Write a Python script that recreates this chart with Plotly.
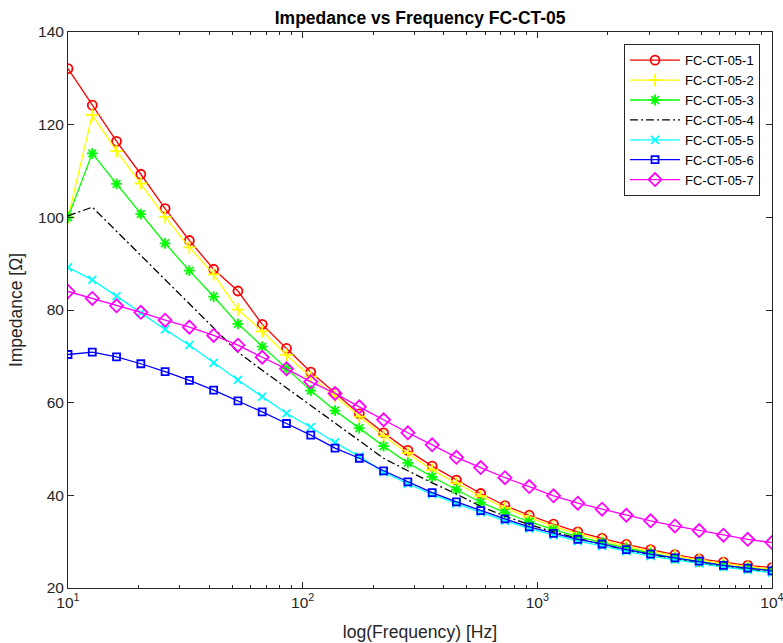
import numpy as np
import plotly.graph_objects as go

freq = np.logspace(1, 4, 30)

names = ["FC-CT-05-1", "FC-CT-05-2", "FC-CT-05-3", "FC-CT-05-4",
         "FC-CT-05-5", "FC-CT-05-6", "FC-CT-05-7"]

z1 = [132.1, 124.2, 116.4, 109.3, 101.9, 95.0, 88.8, 84.1, 76.9, 71.7,
      66.6, 62.1, 57.6, 53.5, 49.7, 46.3, 43.3, 40.4, 37.8, 35.7,
      33.8, 32.1, 30.7, 29.4, 28.3, 27.2, 26.3, 25.6, 24.9, 24.4]
z2 = [100.0, 122.1, 114.3, 107.3, 100.1, 93.5, 87.7, 80.1, 75.4, 70.3,
      65.6, 61.4, 57.0, 52.8, 49.1, 45.5, 42.6, 39.8, 37.3, 35.2,
      33.3, 31.7, 30.3, 29.0, 27.9, 26.9, 26.0, 25.3, 24.6, 24.1]
z3 = [100.0, 113.8, 107.2, 100.7, 94.4, 88.5, 82.9, 77.0, 72.1, 67.4,
      62.6, 58.3, 54.5, 50.6, 47.0, 44.0, 41.2, 38.5, 36.3, 34.3,
      32.6, 31.1, 29.8, 28.6, 27.5, 26.5, 25.7, 24.9, 24.3, 23.8]
z4 = [100.3, 102.2, 97.0, 91.8, 86.6, 81.4, 76.2, 70.9, 67.0, 63.2,
      59.5, 55.6, 51.8, 48.0, 45.3, 42.7, 40.3, 37.6, 35.5, 33.7,
      32.1, 30.7, 29.4, 28.2, 27.2, 26.3, 25.4, 24.6, 24.0, 23.4]
z5 = [89.2, 86.5, 83.0, 79.4, 75.8, 72.4, 68.6, 64.9, 61.3, 57.7,
      54.7, 51.4, 48.4, 45.0, 42.5, 40.2, 38.2, 36.3, 34.5, 32.8,
      31.4, 30.1, 29.1, 27.9, 26.9, 26.1, 25.3, 24.5, 23.9, 23.3]
z6 = [70.4, 70.9, 69.9, 68.4, 66.7, 64.8, 62.7, 60.4, 58.0, 55.5,
      53.0, 50.2, 48.0, 45.3, 42.9, 40.6, 38.6, 36.7, 34.9, 33.2,
      31.8, 30.5, 29.5, 28.3, 27.3, 26.5, 25.8, 24.9, 24.3, 23.7]
z7 = [84.0, 82.5, 80.9, 79.5, 77.8, 76.3, 74.5, 72.4, 69.8, 67.3,
      64.5, 62.0, 59.1, 56.3, 53.5, 50.9, 48.2, 46.0, 43.8, 41.9,
      39.9, 38.3, 37.0, 35.7, 34.5, 33.4, 32.4, 31.4, 30.5, 29.8]

series = [z1, z2, z3, z4, z5, z6, z7]
colors = ["#FF0000", "#FFFF00", "#00FF00", "#000000", "#00FFFF", "#0000FF", "#FF00FF"]
symbols = ["circle-open", "cross-thin-open", "asterisk-open", None,
           "x-thin-open", "square-open", "diamond-open"]
sizes = [9, 9, 9, 0, 8, 7, 10]

x_tickvals = [10, 100, 1000, 10000]
x_ticktext = ["10<sup>1</sup>", "10<sup>2</sup>", "10<sup>3</sup>", "10<sup>4</sup>"]
x_minor = [m * d for d in [10, 100, 1000] for m in range(2, 10)]
y_tickvals = [20, 40, 60, 80, 100, 120, 140]

FONT = "Liberation Sans, Arial, sans-serif"
AX = "#262626"

fig = go.Figure()
for name, ys, c, sym, sz in zip(names, series, colors, symbols, sizes):
    if sym is None:
        fig.add_trace(go.Scatter(x=freq, y=ys, name=name, mode="lines",
                                 line=dict(color=c, width=1.3, dash="8px,3px,2px,3px")))
    else:
        fig.add_trace(go.Scatter(x=freq, y=ys, name=name, mode="lines+markers",
                                 line=dict(color=c, width=1.3),
                                 marker=dict(symbol=sym, size=sz, color=c,
                                             line=dict(color=c, width=1.8))))

# helper trace for the minor-tick axis (draws nothing)
fig.add_trace(go.Scatter(x=[], y=[], xaxis="x2", showlegend=False, hoverinfo="skip"))

fig.update_layout(
    width=783, height=643,
    margin=dict(l=68, r=11, t=32, b=55),
    paper_bgcolor="white", plot_bgcolor="white",
    font=dict(family=FONT, size=15, color=AX),
    title=dict(text="<b>Impedance vs Frequency FC-CT-05</b>", x=0.5366, xanchor="center",
               y=0.972, yanchor="middle", font=dict(size=17.5, color="#000000")),
    showlegend=True,
    legend=dict(x=0.983, xanchor="right", y=0.978, yanchor="top",
                bgcolor="white", bordercolor=AX, borderwidth=1,
                font=dict(size=13, color="#000000"), tracegroupgap=0,
                itemwidth=50),
    xaxis2=dict(type="log", range=[1, 4], overlaying="x", anchor="y", side="bottom",
                tickmode="array", tickvals=x_minor, ticks="inside", ticklen=3,
                tickcolor=AX, showticklabels=False, showline=False, mirror="ticks",
                showgrid=False, zeroline=False, automargin=False),
)
fig.layout.xaxis.update(type="log", range=[1, 4], tickmode="array", tickvals=x_tickvals,
                        ticktext=x_ticktext, ticks="inside", ticklen=6, tickcolor=AX,
                        showline=True, linecolor=AX, linewidth=1, mirror="ticks",
                        showgrid=False, zeroline=False, ticklabeloverflow="allow",
                        automargin=False, tickfont=dict(size=15.5, color=AX),
                        title=dict(text="log(Frequency) [Hz]", font=dict(size=17.6, color=AX),
                                   standoff=16))
fig.update_yaxes(range=[20, 140], tickvals=y_tickvals, ticks="inside", ticklen=6,
                 tickcolor=AX, showline=True, linecolor=AX, linewidth=1, mirror="ticks",
                 showgrid=False, zeroline=False, tickfont=dict(size=15.5, color=AX),
                 automargin=False,
                 title=dict(text="Impedance [Ω]", font=dict(size=17.5, color=AX), standoff=10))

fig.write_html("out.html")
